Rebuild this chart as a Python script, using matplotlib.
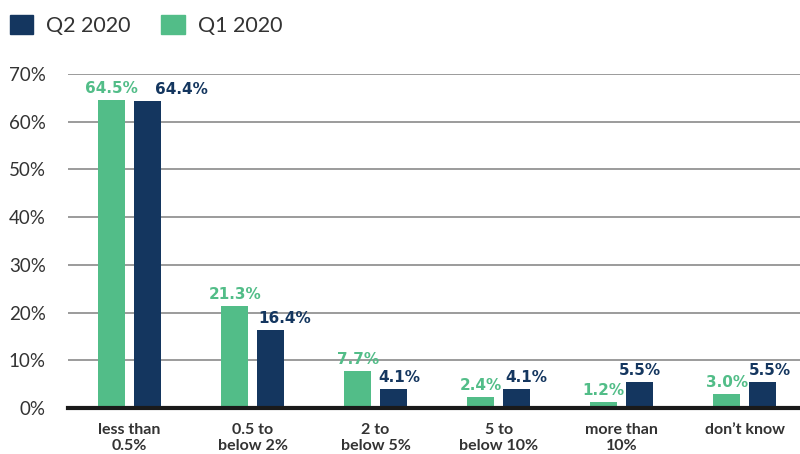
import numpy as np
import matplotlib.pyplot as plt
from matplotlib.patches import Patch

categories = ["less than\n0.5%", "0.5 to\nbelow 2%", "2 to\nbelow 5%",
              "5 to\nbelow 10%", "more than\n10%", "don\u2019t know"]
q1_2020 = [64.5, 21.3, 7.7, 2.4, 1.2, 3.0]
q2_2020 = [64.4, 16.4, 4.1, 4.1, 5.5, 5.5]

GREEN = "#52bd88"
NAVY = "#14365f"
TXT = "#333333"

plt.rcParams['font.family'] = ['Lato', 'DejaVu Sans']

fig = plt.figure(figsize=(8, 4.54), dpi=100)
ax = fig.add_axes([0.085, 0.101, 0.915, 0.736])

x = np.arange(len(categories))
w = 0.22
off = 0.145
ax.bar(x - off, q1_2020, w, color=GREEN, zorder=3)
ax.bar(x + off, q2_2020, w, color=NAVY, zorder=3)

# value labels; navy ones nudged right where they would clash
nudge = [34, 14, 6, 10, 0, 7]
lbl = dict(textcoords="offset pixels", ha="center", va="bottom",
           fontsize=11, fontweight="bold", family="DejaVu Sans", clip_on=False)
for i in range(len(categories)):
    ax.annotate(f"{q1_2020[i]:.1f}%", (x[i] - off, q1_2020[i]),
                xytext=(0, 4), color=GREEN, **lbl)
    ax.annotate(f"{q2_2020[i]:.1f}%", (x[i] + off, q2_2020[i]),
                xytext=(nudge[i], 4), color=NAVY, **lbl)

ax.set_xlim(-0.5, 5.45)
ax.set_ylim(0, 70)
ax.set_yticks(range(0, 71, 10))
ax.set_yticklabels([f"{v}%" for v in range(0, 71, 10)], fontsize=13.5, color=TXT)
ax.set_xticks(x)
ax.set_xticklabels(categories, fontsize=11.5, color=TXT, linespacing=1.15,
                   fontweight="bold")
ax.tick_params(axis="y", length=0, pad=16)
ax.tick_params(axis="x", length=0, pad=11)

ax.grid(axis="y", color="#8a8a8a", linewidth=1.2, zorder=0)
for s in ["top", "right", "left"]:
    ax.spines[s].set_visible(False)
ax.spines["bottom"].set_color("#1a1a1a")
ax.spines["bottom"].set_linewidth(3)
ax.spines["bottom"].set_zorder(4)

handles = [Patch(color=NAVY, label="Q2 2020"), Patch(color=GREEN, label="Q1 2020")]
fig.legend(handles=handles, loc="upper left", bbox_to_anchor=(-0.012, 1.01), ncol=2,
           frameon=False, prop={"size": 15.5},
           handlelength=1.1, handleheight=1.0,
           handletextpad=0.6, columnspacing=1.4, labelcolor=TXT)

fig.savefig("out.png", dpi=100)
